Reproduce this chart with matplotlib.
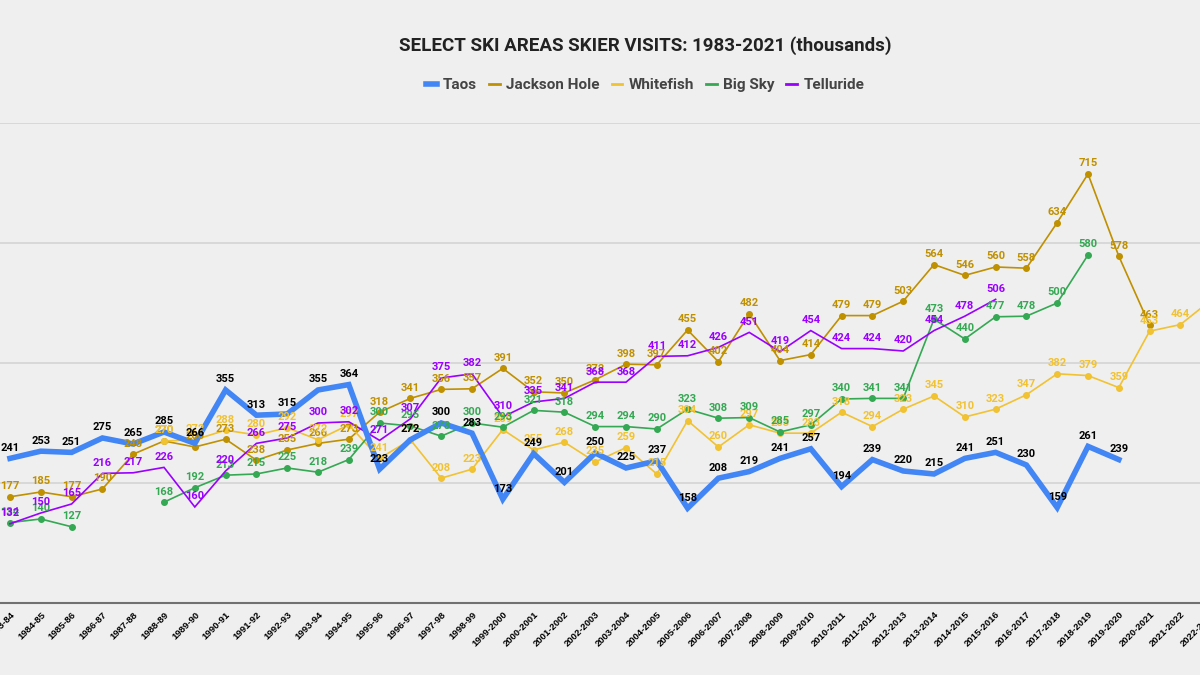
import numpy as np
import matplotlib
matplotlib.use("Agg")
import matplotlib.pyplot as plt
from matplotlib.lines import Line2D

# Season labels along the x axis
seasons = [
    "1983-84", "1984-85", "1985-86", "1986-87", "1987-88", "1988-89", "1989-90",
    "1990-91", "1991-92", "1992-93", "1993-94", "1994-95", "1995-96", "1996-97",
    "1997-98", "1998-99", "1999-2000", "2000-2001", "2001-2002", "2002-2003",
    "2003-2004", "2004-2005", "2005-2006", "2006-2007", "2007-2008", "2008-2009",
    "2009-2010", "2010-2011", "2011-2012", "2012-2013", "2013-2014", "2014-2015",
    "2015-2016", "2016-2017", "2017-2018", "2018-2019", "2019-2020", "2020-2021",
    "2021-2022", "2022-2023",
]

# Skier visits (thousands), None = no data
taos = [241, 253, 251, 275, 265, 285, 266, 355, 313, 315, 355, 364, 223, 272,
        300, 283, 173, 249, 201, 250, 225, 237, 158, 208, 219, 241, 257, 194,
        239, 220, 215, 241, 251, 230, 159, 261, 239, None, None, None]
jackson_hole = [177, 185, 177, 190, 248, 270, 260, 273, 238, 255, 266, 273, 318, 341,
                356, 357, 391, 352, 350, 372, 398, 397, 455, 402, 482, 404, 414, 479,
                479, 503, 564, 546, 560, 558, 634, 715, 578, 463, None, None]
whitefish = [None, None, None, None, None, 270, 272, 288, 280, 292, 272, 297, 241, 272,
             208, 223, 289, 255, 268, 235, 259, 215, 304, 260, 297, 283, 283, 318,
             294, 323, 345, 310, 323, 347, 382, 379, 359, 453, 464, 505]
big_sky = [134, 140, 127, None, None, 168, 192, 213, 215, 225, 218, 239, 300, 295,
           278, 300, 293, 321, 318, 294, 294, 290, 323, 308, 309, 285, 297, 340,
           341, 341, 473, 440, 477, 478, 500, 580, None, None, None, None]
telluride = [132, 150, 165, 216, 217, 226, 160, 220, 266, 275, 300, 302, 271, 307,
             375, 382, 310, 335, 341, 368, 368, 411, 412, 426, 451, 419, 454, 424,
             424, 420, 454, 478, 506, None, None, None, None, None, None, None]

BG = "#efefef"

# name, values, line colour, label colour, line width, marker
series = [
    ("Jackson Hole", jackson_hole, "#bf9000", "#bf9000", 1.2, "o"),
    ("Whitefish", whitefish, "#f1c232", "#f1c232", 1.2, "o"),
    ("Big Sky", big_sky, "#34a853", "#34a853", 1.2, "o"),
    ("Telluride", telluride, "#9900ff", "#9900ff", 1.2, None),
    ("Taos", taos, "#4285f4", "#000000", 4.0, None),
]


def to_array(values):
    return np.array([np.nan if v is None else v for v in values], dtype=float)


fig = plt.figure(figsize=(12, 6.75), dpi=100, facecolor=BG)
# the chart is a crop of a wider sheet: the axes runs past both figure edges
ax = fig.add_axes([-0.05, 0.1067, 1.1, 0.7111])
ax.set_facecolor(BG)

x = np.arange(len(seasons))
for name, values, color, label_color, lw, marker in series:
    y = to_array(values)
    ax.plot(x, y, color=color, lw=lw, marker=marker, markersize=4,
            solid_joinstyle="miter", zorder=3 if name != "Taos" else 4)
    for i, v in enumerate(y):
        if np.isnan(v):
            continue
        ax.annotate(f"{int(v)}", (i, v), xytext=(0, 4), textcoords="offset points",
                    ha="center", va="bottom", fontsize=8, fontweight="bold",
                    color=label_color, family="Roboto", zorder=6)

ax.set_xlim(-70 / 30.8, 1250 / 30.8)
ax.set_ylim(0, 800)
ax.set_yticks([200, 400, 600, 800])
ax.yaxis.grid(True, color="#d6d6d6", lw=1.3)
ax.tick_params(axis="y", left=False, labelleft=False)
ax.set_axisbelow(True)

ax.set_xticks(x)
ax.set_xticklabels(seasons, rotation=45, ha="right", rotation_mode="anchor",
                   fontsize=6.8, fontweight="bold", family="Liberation Sans")
ax.tick_params(axis="x", length=0, pad=5)

for side in ["top", "left", "right"]:
    ax.spines[side].set_visible(False)
ax.spines["bottom"].set_color("#707070")
ax.spines["bottom"].set_linewidth(1.5)

fig.text(0.5375, 0.933, "SELECT SKI AREAS SKIER VISITS: 1983-2021 (thousands)",
         ha="center", va="center", fontsize=13.5, fontweight="bold",
         color="#222222", family="Roboto")

legend_order = ["Taos", "Jackson Hole", "Whitefish", "Big Sky", "Telluride"]
colors = {s[0]: s[2] for s in series}
handles = [Line2D([0], [0], color=colors[n], lw=4 if n == "Taos" else 2)
           for n in legend_order]
fig.legend(handles, legend_order, loc="center", bbox_to_anchor=(0.5375, 0.874),
           ncol=5, frameon=False, handlelength=0.7, handletextpad=0.4,
           columnspacing=0.8, prop={"family": "Roboto", "weight": "bold", "size": 11},
           labelcolor="#444444")

fig.savefig("out.png", dpi=100, facecolor=BG)
